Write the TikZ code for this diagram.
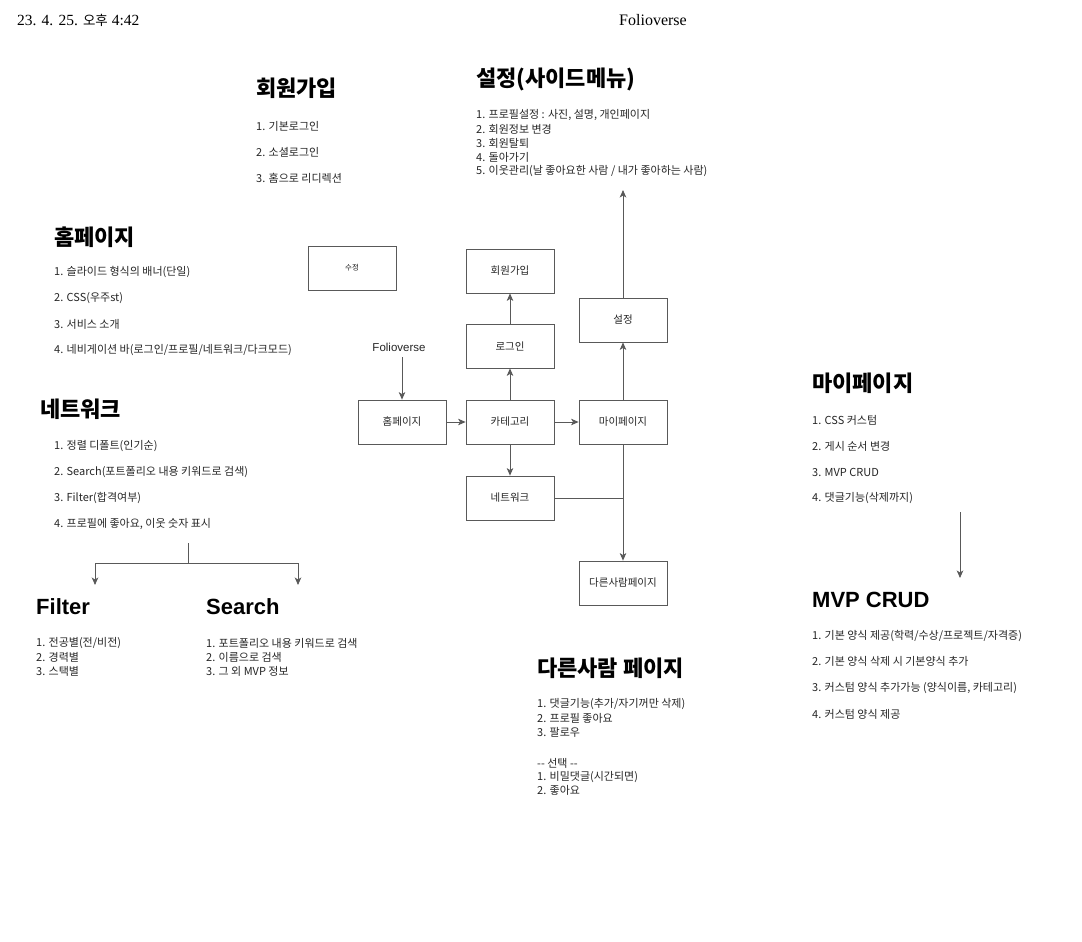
\documentclass[tikz,border=0pt]{standalone}
\usepackage{fontspec}
\setmainfont{Noto Sans CJK KR}
\newfontfamily\hdr{Liberation Serif}
\newfontfamily\ko{Noto Sans CJK KR}
\newfontfamily\lat{Liberation Sans}
\usetikzlibrary{arrows.meta}
\begin{document}
\begin{tikzpicture}[x=1pt,y=-1pt,
  box/.style={draw=black!65,line width=0.8pt,minimum width=88pt,minimum height=44pt,inner sep=0pt,font=\fontsize{10.5}{12}\selectfont,text=black!85},
  ttl/.style={anchor=west,inner sep=0pt,font=\fontsize{22}{26}\selectfont\bfseries},
  itm/.style={anchor=west,inner sep=0pt,font=\fontsize{11}{13}\selectfont,text=black!85},
  conn/.style={draw=black!65,line width=0.8pt},
  arr/.style={conn,-{Stealth[length=7.5pt,width=6.5pt,inset=2pt]}}]
\useasboundingbox (0,0) rectangle (1082,942);
\fill[white] (0,0) rectangle (1082,942);
% header
\node[anchor=west,inner sep=0pt,font=\fontsize{15.5}{17}\selectfont] (hd1) at (17,20) {\hdr 23. 4. 25. {\ko\fontsize{13.5}{17}\selectfont 오후} 4:42};
\node[inner sep=0pt,font=\hdr\fontsize{16}{18}\selectfont] (hd2) at (653,20) {Folioverse};

% 회원가입 section
\node[ttl] (t1) at (256,88) {회원가입};
\node[itm] (t1a) at (256,126) {1. 기본로그인};
\node[itm] (t1b) at (256,152) {2. 소셜로그인};
\node[itm] (t1c) at (256,178) {3. 홈으로 리디렉션};

% 설정 section
\node[ttl] (t2) at (476,79) {설정(사이드메뉴)};
\node[itm] (t2a) at (476,115) {1. 프로필설정 : 사진, 설명, 개인페이지};
\node[itm] (t2b) at (476,129) {2. 회원정보 변경};
\node[itm] (t2c) at (476,143) {3. 회원탈퇴};
\node[itm] (t2d) at (476,157) {4. 돌아가기};
\node[itm] (t2e) at (476,171) {5. 이웃관리(날 좋아요한 사람 / 내가 좋아하는 사람)};

% 홈페이지 section
\node[ttl] (t3) at (54,237) {홈페이지};
\node[itm] (t3a) at (54,272) {1. 슬라이드 형식의 배너(단일)};
\node[itm] (t3b) at (54,298) {2. CSS(우주st)};
\node[itm] (t3c) at (54,324) {3. 서비스 소개};
\node[itm] (t3d) at (54,350) {4. 네비게이션 바(로그인/프로필/네트워크/다크모드)};

% 네트워크 section
\node[ttl] (t4) at (40,409) {네트워크};
\node[itm] (t4a) at (54,446) {1. 정렬 디폴트(인기순)};
\node[itm] (t4b) at (54,472) {2. Search(포트폴리오 내용 키워드로 검색)};
\node[itm] (t4c) at (54,498) {3. Filter(합격여부)};
\node[itm] (t4d) at (54,524) {4. 프로필에 좋아요, 이웃 숫자 표시};
\coordinate (sp0) at (188,543);
\coordinate (sp1) at (188,563);
\coordinate (spl) at (95,563);
\coordinate (spr) at (298,563);
\coordinate (spla) at (95,585);
\coordinate (spra) at (298,585);
\draw[conn] (sp0) -- (sp1);
\draw[arr] (sp1) -- (spl) -- (spla);
\draw[arr] (sp1) -- (spr) -- (spra);

% Filter / Search
\node[ttl,font=\lat\fontsize{22}{26}\selectfont\bfseries] (t5) at (36,607) {Filter};
\node[itm] (t5a) at (36,643) {1. 전공별(전/비전)};
\node[itm] (t5b) at (36,657) {2. 경력별};
\node[itm] (t5c) at (36,671) {3. 스택별};
\node[ttl,font=\lat\fontsize{22}{26}\selectfont\bfseries] (t6) at (206,607) {Search};
\node[itm] (t6a) at (206,643) {1. 포트폴리오 내용 키워드로 검색};
\node[itm] (t6b) at (206,657) {2. 이름으로 검색};
\node[itm] (t6c) at (206,671) {3. 그 외 MVP 정보};

% 마이페이지 section
\node[ttl] (t7) at (812,383) {마이페이지};
\node[itm] (t7a) at (812,420) {1. CSS 커스텀};
\node[itm] (t7b) at (812,446) {2. 게시 순서 변경};
\node[itm] (t7c) at (812,472) {3. MVP CRUD};
\node[itm] (t7d) at (812,498) {4. 댓글기능(삭제까지)};
\coordinate (mv0) at (960,512);
\coordinate (mv1) at (960,578);
\draw[arr] (mv0) -- (mv1);

% MVP CRUD
\node[ttl,font=\lat\fontsize{22}{26}\selectfont\bfseries] (t8) at (812,600) {MVP CRUD};
\node[itm] (t8a) at (812,636) {1. 기본 양식 제공(학력/수상/프로젝트/자격증)};
\node[itm] (t8b) at (812,661) {2. 기본 양식 삭제 시 기본양식 추가};
\node[itm] (t8c) at (812,688) {3. 커스텀 양식 추가가능 (양식이름, 카테고리)};
\node[itm] (t8d) at (812,714) {4. 커스텀 양식 제공};

% 다른사람 페이지
\node[ttl] (t9) at (537,668) {다른사람 페이지};
\node[itm] (t9a) at (537,704) {1. 댓글기능(추가/자기꺼만 삭제)};
\node[itm] (t9b) at (537,718) {2. 프로필 좋아요};
\node[itm] (t9c) at (537,732) {3. 팔로우};
\node[itm] (t9d) at (537,763) {-{}- 선택 -{}-};
\node[itm] (t9e) at (537,777) {1. 비밀댓글(시간되면)};
\node[itm] (t9f) at (537,790) {2. 좋아요};

% diagram
\node[box,font=\fontsize{7.5}{9}\selectfont] (sj) at (352,268) {수정};
\node[box] (join) at (510,271) {회원가입};
\node[box] (login) at (510,346) {로그인};
\node[box] (set) at (623,320) {설정};
\node[inner sep=0pt,font=\lat\fontsize{11.5}{13}\selectfont,text=black!85] (fv) at (399,347) {Folioverse};
\node[box] (home) at (402,422) {홈페이지};
\node[box] (cat) at (510,422) {카테고리};
\node[box] (my) at (623,422) {마이페이지};
\node[box] (net) at (510,498) {네트워크};
\node[box] (other) at (623,583) {다른사람페이지};
\coordinate (up) at (623,190);
\coordinate (jn) at (623,498);

\draw[arr] (fv.south -| home.north) ++(0,6) -- (home.north);
\draw[arr] (home) -- (cat);
\draw[arr] (cat) -- (my);
\draw[arr] (cat) -- (login);
\draw[arr] (login) -- (join);
\draw[arr] (my) -- (set);
\draw[arr] (set.north) -- (up);
\draw[arr] (cat) -- (net);
\draw[arr] (my) -- (other);
\draw[conn] (net.east) -- (jn);
\end{tikzpicture}
\end{document}
